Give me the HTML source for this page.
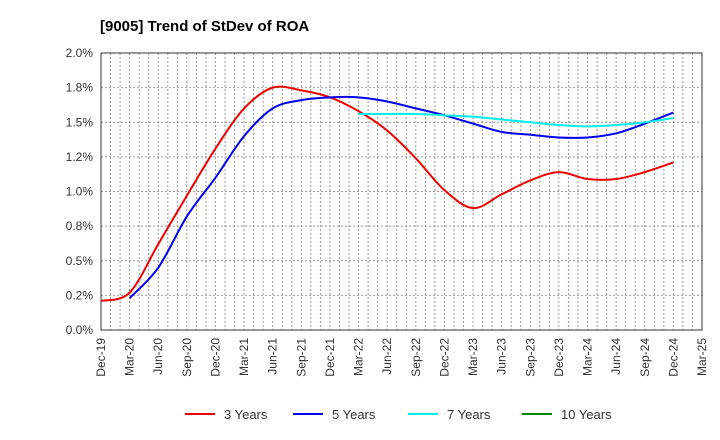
<!DOCTYPE html>
<html><head><meta charset="utf-8"><style>
body{margin:0;background:#fff;}
svg{display:block;font-family:"Liberation Sans",sans-serif;}
</style></head><body>
<svg id="c" width="720" height="440"></svg>
<script>
const quarters=["Dec-19","Mar-20","Jun-20","Sep-20","Dec-20","Mar-21","Jun-21","Sep-21","Dec-21","Mar-22","Jun-22","Sep-22","Dec-22","Mar-23","Jun-23","Sep-23","Dec-23","Mar-24","Jun-24","Sep-24","Dec-24","Mar-25"];
const yTicks=[0,0.25,0.5,0.75,1.0,1.25,1.5,1.75,2.0];
const yTickLabels=["0.0%","0.2%","0.5%","0.8%","1.0%","1.2%","1.5%","1.8%","2.0%"];
const s3=[0.21,0.27,0.62,0.97,1.31,1.60,1.75,1.73,1.68,1.58,1.44,1.24,1.01,0.88,0.98,1.08,1.14,1.09,1.09,1.14,1.21];
const s5=[null,0.23,0.45,0.82,1.10,1.40,1.60,1.66,1.68,1.68,1.65,1.60,1.55,1.49,1.43,1.41,1.39,1.39,1.42,1.49,1.57];
const s7=[null,null,null,null,null,null,null,null,null,1.56,1.56,1.56,1.55,1.54,1.52,1.50,1.48,1.47,1.48,1.50,1.53];
const s10=[];
const series=[{n:"3 Years",c:"#ee0000",d:s3},{n:"5 Years",c:"#0000ee",d:s5},{n:"7 Years",c:"#00eeee",d:s7},{n:"10 Years",c:"#008800",d:s10}];
const L=101,R=702,T=53,B=330;
const x=i=>L+(R-L)*i/(quarters.length-1);
const y=v=>B-(B-T)*v/2.0;
const svg=document.getElementById('c');
const NS="http://www.w3.org/2000/svg";
function mk(t,a,p){const e=document.createElementNS(NS,t);for(const k in a)e.setAttribute(k,a[k]);(p||svg).appendChild(e);return e;}
let e=mk('text',{x:100,y:31,'font-size':15,'font-weight':'bold',fill:'#000'});e.textContent="[9005]  Trend of StDev of ROA";


for(let m=1;m<(quarters.length-1)*3;m++){const xx=L+(R-L)*m/((quarters.length-1)*3);
 e=mk('line',{x1:xx,x2:xx,y1:T,y2:B,stroke:'#999','stroke-dasharray':'2,2','stroke-width':1});
 
 }
yTicks.forEach((v,i)=>{
 e=mk('line',{x1:L,x2:R,y1:y(v),y2:y(v),stroke:'#999','stroke-dasharray':'2,2','stroke-width':1});
 
 
 e=mk('text',{x:L-8,y:y(v)+4,'text-anchor':'end','font-size':12,fill:'#333'});e.textContent=yTickLabels[i];
 
 
});
quarters.forEach((q,i)=>{
 e=mk('text',{transform:`translate(${x(i)+4},${B+8}) rotate(-90)`,'text-anchor':'end','font-size':12,fill:'#333'});e.textContent=q;
 
 
});
e=mk('rect',{x:L,y:T,width:R-L,height:B-T,fill:'none',stroke:'#333','stroke-width':1});


function path(pts){let d=`M${pts[0][0]},${pts[0][1]}`;
 for(let i=0;i<pts.length-1;i++){const p0=pts[i-1]||pts[i],p1=pts[i],p2=pts[i+1],p3=pts[i+2]||p2;
  d+=` C${p1[0]+(p2[0]-p0[0])/6},${p1[1]+(p2[1]-p0[1])/6} ${p2[0]-(p3[0]-p1[0])/6},${p2[1]-(p3[1]-p1[1])/6} ${p2[0]},${p2[1]}`;}
 return d;}
series.forEach(s=>{
 const pts=[];s.d.forEach((v,i)=>{if(v!=null)pts.push([x(i),y(v)]);});
 if(pts.length<2)return;
 e=mk('path',{d:path(pts),fill:'none',stroke:s.c,'stroke-width':2});
 
 
});
const lx=[185,293,408,522];
series.forEach((s,i)=>{
 const g=mk('g',{});
 
 
 mk('line',{x1:lx[i],x2:lx[i]+30,y1:414,y2:414,stroke:s.c,'stroke-width':2},g);
 const t=mk('text',{x:lx[i]+39,y:419,'font-size':13,fill:'#333'},g);t.textContent=s.n;
});
</script>
</body></html>
